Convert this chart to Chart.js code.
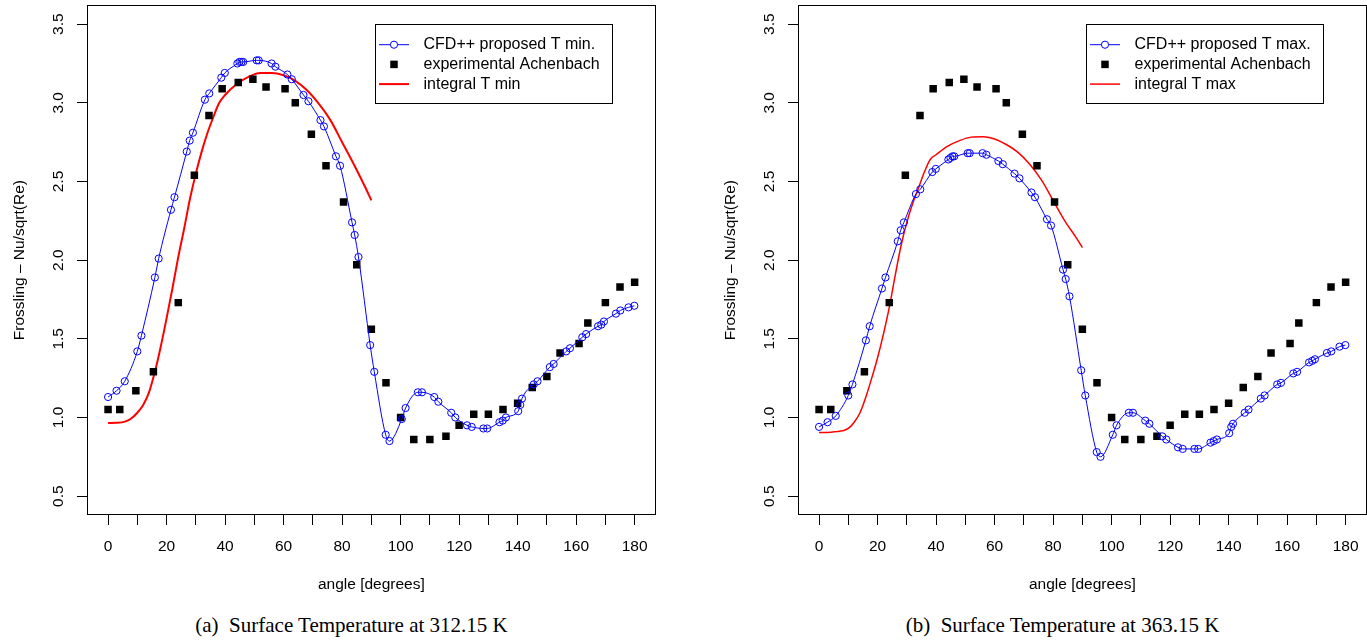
<!DOCTYPE html>
<html>
<head>
<meta charset="utf-8">
<title>Frossling number vs angle</title>
<script src="https://cdn.jsdelivr.net/npm/chart.js@4.4.1/dist/chart.umd.min.js"></script>
<style>
    html, body { margin: 0; padding: 0; background: #fff; }
    #page { position: relative; width: 1367px; height: 642px; overflow: hidden; }
    canvas { position: absolute; top: 0; }
    #chartMin { left: 0; }
    #chartMax { left: 711px; }
    .caption {
        position: absolute;
        top: 613px;
        width: 703px;
        text-align: center;
        font: 21px 'Liberation Serif', 'Times New Roman', serif;
        line-height: 24px;
        white-space: pre;
        color: #000;
    }
</style>
</head>
<body>
<div id="page">
    <canvas id="chartMin" width="661" height="600"></canvas>
    <canvas id="chartMax" width="661" height="600"></canvas>
    <div class="caption" style="left:0">(a)  Surface Temperature at 312.15 K</div>
    <div class="caption" style="left:711px">(b)  Surface Temperature at 363.15 K</div>
</div>
<script>
// ── Axis ticks ──
const xTicks = [0, 10, 20, 30, 40, 50, 60, 70, 80, 90, 100, 110, 120, 130, 140, 150, 160, 170, 180];
const yTicks = [0.5, 1.0, 1.5, 2.0, 2.5, 3.0, 3.5];

// ── Experimental data (Achenbach), same in both panels ──
const achAngle = [0, 4, 9.5, 15.5, 24, 29.5, 34.5, 39, 44.5, 49.5, 54, 60.5, 64, 69.5, 74.5, 80.5, 85, 90, 95, 100,
    104.5, 110, 115.5, 120, 125, 130, 135, 140, 145, 150, 154.5, 161, 164, 170, 175, 180];
const achNu = [1.05, 1.05, 1.17, 1.29, 1.73, 2.54, 2.92, 3.09, 3.13, 3.15, 3.10, 3.09, 3.00, 2.80, 2.60, 2.37, 1.97, 1.56, 1.22, 1.00,
    0.86, 0.86, 0.88, 0.95, 1.02, 1.02, 1.05, 1.09, 1.19, 1.26, 1.41, 1.47, 1.60, 1.73, 1.83, 1.86];

// ── CFD++ surface samples ──
const cfdAngle = [0, 2.9, 5.7, 10.0, 11.4, 16.0, 17.3, 21.5, 22.7, 26.9, 27.9, 29.0, 33.1, 34.6, 38.7, 39.9, 44.2, 44.9, 45.6, 46.2,
    50.8, 51.5, 55.9, 57.2, 61.3, 62.8, 66.8, 68.5, 72.6, 73.8, 77.9, 79.3, 83.4, 84.3, 85.6, 89.6, 91.0, 94.9, 96.2, 100.4,
    101.7, 105.9, 107.3, 111.5, 112.9, 117.3, 118.7, 122.7, 124.3, 128.3, 129.6, 133.8, 134.9, 136.0, 140.2, 140.9, 141.5, 145.5, 146.8, 151.0,
    152.3, 156.6, 157.9, 162.1, 163.4, 167.5, 168.6, 169.5, 173.6, 175.1, 177.9, 179.9];
const cfdMinNu = [1.13, 1.17, 1.23, 1.42, 1.52, 1.89, 2.01, 2.32, 2.40, 2.69, 2.76, 2.81, 3.02, 3.06, 3.16, 3.19, 3.25, 3.26, 3.26, 3.26,
    3.27, 3.27, 3.25, 3.23, 3.18, 3.15, 3.05, 3.01, 2.89, 2.85, 2.66, 2.60, 2.24, 2.16, 2.02, 1.46, 1.29, 0.89, 0.85, 0.99,
    1.06, 1.16, 1.16, 1.13, 1.10, 1.03, 1.00, 0.95, 0.94, 0.93, 0.93, 0.97, 0.98, 1.00, 1.04, 1.08, 1.12, 1.21, 1.23, 1.32,
    1.34, 1.42, 1.44, 1.51, 1.53, 1.58, 1.59, 1.61, 1.66, 1.68, 1.70, 1.71];
const cfdMaxNu = [0.94, 0.97, 1.01, 1.14, 1.21, 1.49, 1.58, 1.82, 1.89, 2.12, 2.19, 2.24, 2.42, 2.45, 2.56, 2.58, 2.64, 2.65, 2.66, 2.66,
    2.68, 2.68, 2.68, 2.67, 2.63, 2.61, 2.55, 2.52, 2.43, 2.40, 2.26, 2.22, 1.94, 1.88, 1.77, 1.30, 1.14, 0.78, 0.75, 0.89,
    0.95, 1.03, 1.03, 0.98, 0.96, 0.88, 0.86, 0.81, 0.80, 0.80, 0.80, 0.84, 0.85, 0.86, 0.90, 0.94, 0.96, 1.03, 1.05, 1.12,
    1.14, 1.21, 1.22, 1.28, 1.29, 1.35, 1.36, 1.37, 1.41, 1.42, 1.45, 1.46];

// ── Integral method (front side only) ──
const intAngle = [0, 3, 6, 8, 10, 12, 14, 16, 18, 20, 22, 24, 26, 28, 30, 32, 34, 36, 38, 40,
    44, 48, 52, 56, 60, 64, 68, 72, 76, 80, 84, 88, 90];
const intMinNu = [0.965, 0.966, 0.975, 0.995, 1.03, 1.08, 1.16, 1.29, 1.45, 1.63, 1.82, 2.02, 2.20, 2.39, 2.55, 2.69, 2.81, 2.91, 3.00, 3.05,
    3.12, 3.165, 3.19, 3.19, 3.175, 3.14, 3.08, 2.995, 2.89, 2.75, 2.61, 2.46, 2.38];
const intMaxNu = [0.905, 0.905, 0.91, 0.915, 0.93, 0.97, 1.03, 1.13, 1.25, 1.38, 1.53, 1.70, 1.90, 2.09, 2.24, 2.36, 2.46, 2.56, 2.64, 2.67,
    2.725, 2.76, 2.782, 2.785, 2.77, 2.735, 2.685, 2.61, 2.51, 2.38, 2.25, 2.14, 2.08];

// ── Styles ──
const BLUE = '#0000ff';
const RED = '#ff0000';
const BLACK = '#000000';
const FONT = "'Liberation Sans', Arial, Helvetica, sans-serif";
const AXIS_FONT = { family: FONT, size: 15.5 };

function toPoints(xs, ys) {
    return xs.map((x, i) => ({ x: x, y: ys[i] }));
}

// ── Box around the plot region ──
const framePlugin = {
    id: 'frame',
    afterDraw(chart) {
        const { ctx, chartArea: a } = chart;
        ctx.save();
        ctx.strokeStyle = BLACK;
        ctx.lineWidth = 1;
        ctx.strokeRect(Math.round(a.left) + 0.5, Math.round(a.top) + 0.5,
            Math.round(a.right - a.left) - 1, Math.round(a.bottom - a.top) - 1);
        ctx.restore();
    }
};

// ── Boxed legend, top right ──
const boxLegendPlugin = {
    id: 'boxLegend',
    afterDraw(chart, args, opts) {
        const { ctx, chartArea: a } = chart;
        const w = 237, h = 79;
        const left = Math.round(a.right - 44 - w);
        const top = Math.round(a.top + 19);
        ctx.save();
        ctx.fillStyle = '#fff';
        ctx.fillRect(left, top, w, h);
        ctx.strokeStyle = BLACK;
        ctx.lineWidth = 1;
        ctx.strokeRect(left + 0.5, top + 0.5, w, h);

        ctx.font = '16px ' + FONT;
        ctx.textBaseline = 'middle';
        opts.items.forEach((item, i) => {
            const y = top + 20.7 + i * 19.7;
            const cx = left + 19;
            if (item.kind === 'lineCircle' || item.kind === 'line') {
                ctx.strokeStyle = item.color;
                ctx.lineWidth = item.width;
                ctx.beginPath();
                ctx.moveTo(left + 4, y);
                ctx.lineTo(left + 34, y);
                ctx.stroke();
            }
            if (item.kind === 'lineCircle') {
                ctx.fillStyle = '#fff';
                ctx.beginPath();
                ctx.arc(cx, y, 3.6, 0, Math.PI * 2);
                ctx.fill();
                ctx.lineWidth = 1;
                ctx.stroke();
            }
            if (item.kind === 'square') {
                ctx.fillStyle = item.color;
                ctx.fillRect(cx - 3.75, y - 3.75, 7.5, 7.5);
            }
            ctx.fillStyle = BLACK;
            ctx.fillText(item.text, left + 48.5, y);
        });
        ctx.restore();
    }
};

// ── Build one panel ──
function makePanel(canvasId, cfdNu, intNu, cfdLabel, intLabel, intWidth) {
    const ctx = document.getElementById(canvasId);
    return new Chart(ctx, {
        type: 'scatter',
        data: {
            datasets: [
                {
                    label: cfdLabel,
                    data: toPoints(cfdAngle, cfdNu),
                    showLine: true,
                    borderColor: BLUE,
                    borderWidth: 1,
                    cubicInterpolationMode: 'monotone',
                    pointStyle: 'circle',
                    pointRadius: 3.6,
                    pointBorderWidth: 1,
                    pointBorderColor: BLUE,
                    pointBackgroundColor: 'rgba(0,0,0,0)',
                    order: 0
                },
                {
                    label: 'experimental Achenbach',
                    data: toPoints(achAngle, achNu),
                    showLine: false,
                    pointStyle: 'rect',
                    pointRadius: 5.3,
                    pointBorderWidth: 0,
                    pointBackgroundColor: BLACK,
                    order: 1
                },
                {
                    label: intLabel,
                    data: toPoints(intAngle, intNu),
                    showLine: true,
                    borderColor: RED,
                    borderWidth: intWidth,
                    cubicInterpolationMode: 'monotone',
                    pointRadius: 0,
                    order: 2
                }
            ]
        },
        options: {
            responsive: false,
            animation: false,
            events: [],
            layout: { padding: { top: 5, right: 0, bottom: 0, left: 0 } },
            scales: {
                x: {
                    type: 'linear',
                    min: -7.2,
                    max: 187.2,
                    afterBuildTicks: s => { s.ticks = xTicks.map(v => ({ value: v })); },
                    afterFit: s => {
                        s.height = 85;
                        s.paddingLeft = 0;
                        s.paddingRight = 0;
                    },
                    grid: { drawOnChartArea: false, drawTicks: true, tickLength: 10, color: BLACK, lineWidth: 1 },
                    border: { display: false },
                    ticks: {
                        autoSkip: false,
                        maxRotation: 0,
                        padding: 12,
                        color: BLACK,
                        font: AXIS_FONT,
                        callback: v => (v % 20 === 0 ? String(v) : '')
                    },
                    title: {
                        display: true,
                        text: 'angle [degrees]',
                        color: BLACK,
                        font: AXIS_FONT,
                        padding: { top: 0, bottom: 6 }
                    }
                },
                y: {
                    type: 'linear',
                    min: 0.38,
                    max: 3.62,
                    afterBuildTicks: s => { s.ticks = yTicks.map(v => ({ value: v })); },
                    afterFit: s => {
                        s.width = 87;
                        s.paddingTop = 0;
                        s.paddingBottom = 0;
                    },
                    grid: { drawOnChartArea: false, drawTicks: true, tickLength: 10, color: BLACK, lineWidth: 1 },
                    border: { display: false },
                    ticks: {
                        minRotation: 90,
                        maxRotation: 90,
                        crossAlign: 'center',
                        padding: 8,
                        color: BLACK,
                        font: AXIS_FONT,
                        callback: v => Number(v).toFixed(1)
                    },
                    title: {
                        display: true,
                        text: 'Frossling \u2013 Nu/sqrt(Re)',
                        color: BLACK,
                        font: AXIS_FONT,
                        padding: { top: 10, bottom: 0 }
                    }
                }
            },
            plugins: {
                legend: { display: false },
                tooltip: { enabled: false },
                boxLegend: {
                    items: [
                        { text: cfdLabel, kind: 'lineCircle', color: BLUE, width: 1 },
                        { text: 'experimental Achenbach', kind: 'square', color: BLACK },
                        { text: intLabel, kind: 'line', color: RED, width: intWidth }
                    ]
                }
            }
        },
        plugins: [framePlugin, boxLegendPlugin]
    });
}

makePanel('chartMin', cfdMinNu, intMinNu, 'CFD++ proposed T min.', 'integral T min', 2);
makePanel('chartMax', cfdMaxNu, intMaxNu, 'CFD++ proposed T max.', 'integral T max', 1.5);
</script>
</body>
</html>
